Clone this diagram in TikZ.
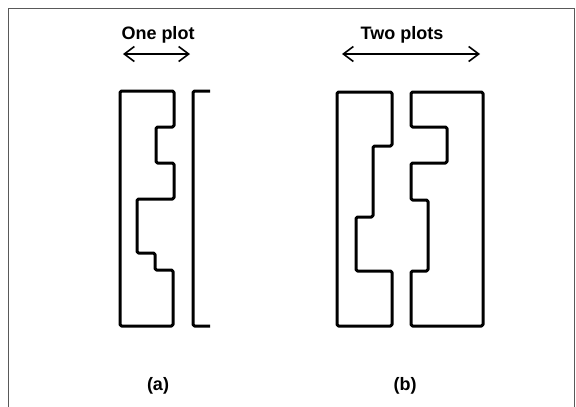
\documentclass[tikz,border=0pt]{standalone}
\usepackage{fontspec}
\setmainfont{Liberation Sans}
\usepackage{tikz}
\usetikzlibrary{arrows.meta}

\begin{document}
\begin{tikzpicture}[x=1pt,y=-1pt,
  my plot/.style={
    line width=3pt,
    line join=round,
    rounded corners=1.5pt,
  },
  my arrow/.style={
    line width=1.6pt,
    {Straight Barb[length=10pt,width=15pt]}-{Straight Barb[length=10pt,width=15pt]},
  },
  my label/.style={font=\bfseries\fontsize{18}{21}\selectfont},
  ]
  \useasboundingbox (0,0) rectangle (576,407);
  \draw[line width=1.3pt,black!65] (8.5,407) |- (574.5,8.5) -- (574.5,407);

  % (a) one plot
  \node[my label] (onetext) at (158,35) {One plot};
  \coordinate (A1) at (123,54);
  \coordinate (A2) at (190,54);
  \draw[my arrow] (A1) -- (A2);
  \draw[my plot] (120,91) -- (174,91) -- (174,127) -- (156,127) -- (156,163)
    -- (174,163) -- (174,199) -- (137,199) -- (137,253) -- (155,253)
    -- (155,270) -- (173,270) -- (173,326) -- (120,326) -- cycle;
  \draw[my plot] (210,91) -- (193,91) -- (193,326) -- (210,326);
  \node[my label] (a) at (158,386) {(a)};

  % (b) two plots
  \node[my label] (twotext) at (402,35) {Two plots};
  \coordinate (B1) at (342,54);
  \coordinate (B2) at (480,54);
  \draw[my arrow] (B1) -- (B2);
  \draw[my plot] (337,92) -- (392,92) -- (392,146) -- (373,146) -- (373,217)
    -- (356,217) -- (356,271) -- (392,271) -- (392,326) -- (337,326) -- cycle;
  \draw[my plot] (411,92) -- (483,92) -- (483,326) -- (411,326) -- (411,271)
    -- (428,271) -- (428,200) -- (411,200) -- (411,163) -- (447,163)
    -- (447,127) -- (411,127) -- cycle;
  \node[my label] (b) at (405,386) {(b)};
\end{tikzpicture}
\end{document}
